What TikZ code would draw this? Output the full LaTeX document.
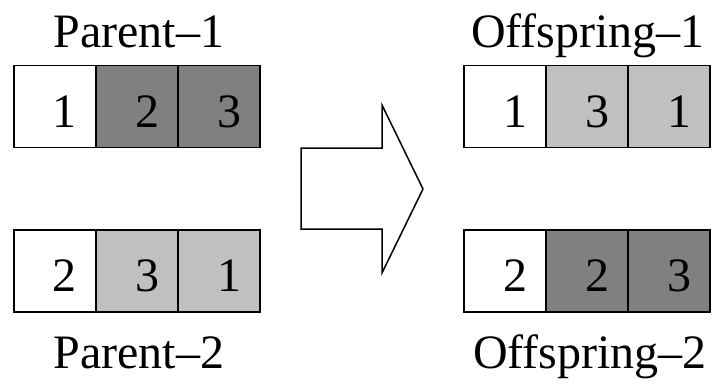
\documentclass[tikz,border=0pt]{standalone}
\usepackage{fontspec}
\setmainfont{Liberation Serif}
\definecolor{genedark}{RGB}{128,128,128}
\definecolor{genelight}{RGB}{192,192,192}
\begin{document}
\begin{tikzpicture}[x=1pt,y=-1pt,
		cell/.style={draw,line width=1.5pt,minimum width=82pt,minimum height=82pt,
			inner xsep=19pt,inner ysep=0pt,text width=44pt,align=right,
			text height=41pt,text depth=0pt,font=\fontsize{48}{50}\selectfont},
		dark/.style={cell,fill=genedark},
		light/.style={cell,fill=genelight},
		title/.style={anchor=base,inner sep=0pt,font=\fontsize{48}{50}\selectfont}]
			\useasboundingbox (0,0) rectangle (713,386);

			% parents
			\node[title] at (139,47) (p1) {Parent–1};
			\node[cell] at (55,106.5) (p1a) {1};
			\node[dark] at (137,106.5) (p1b) {2};
			\node[dark] at (219,106.5) (p1c) {3};

			\node[cell] at (55,271) (p2a) {2};
			\node[light] at (137,271) (p2b) {3};
			\node[light] at (219,271) (p2c) {1};
			\node[title] at (139,368) (p2) {Parent–2};

			% crossover arrow
			\draw[line width=1.5pt,line join=miter] (301,148) -- (382,148) -- (382,105) -- (423,189)
				-- (382,273) -- (382,229) -- (301,229) -- cycle;

			% offspring
			\node[title] at (588,47) (o1) {Offspring–1};
			\node[cell] at (505,106.5) (o1a) {1};
			\node[light] at (587,106.5) (o1b) {3};
			\node[light] at (669,106.5) (o1c) {1};

			\node[cell] at (505,271) (o2a) {2};
			\node[dark] at (587,271) (o2b) {2};
			\node[dark] at (669,271) (o2c) {3};
			\node[title] at (590,368) (o2) {Offspring–2};
		\end{tikzpicture}
\end{document}
